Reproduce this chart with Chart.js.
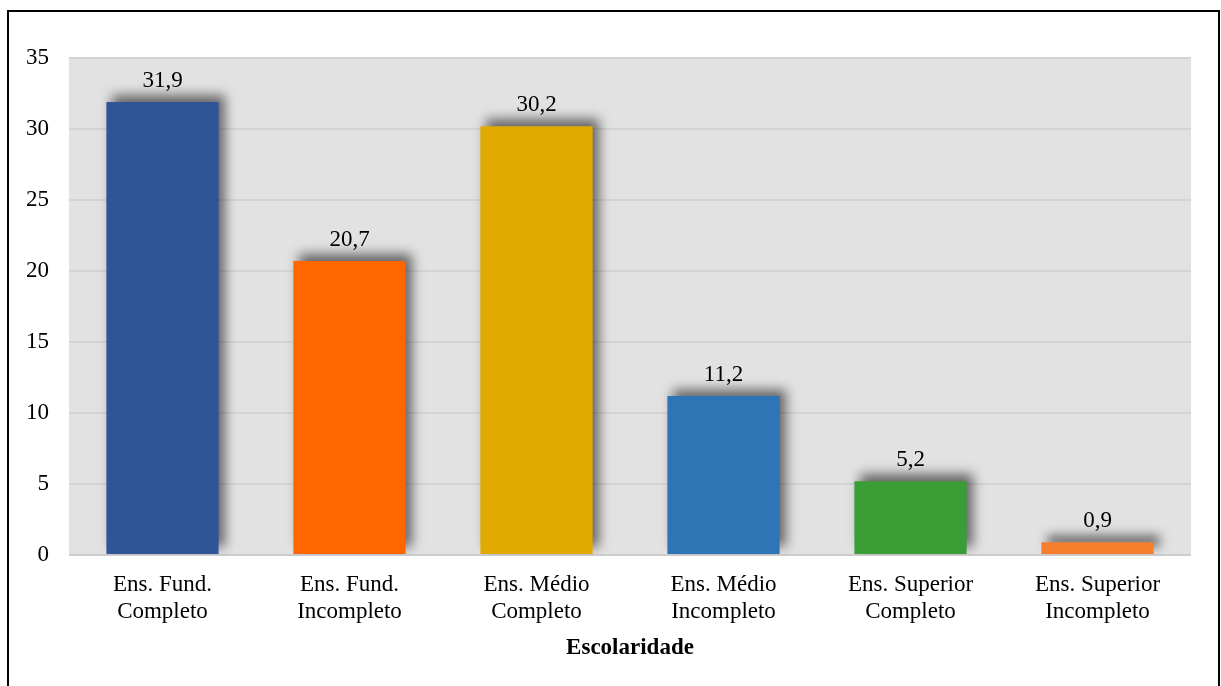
<!DOCTYPE html>
<html lang="pt-BR">
<head>
<meta charset="utf-8">
<title>Escolaridade</title>
<script src="https://cdn.jsdelivr.net/npm/chart.js@4/dist/chart.umd.min.js"></script>
<style>
  html, body { margin: 0; padding: 0; background: #ffffff; }
  #wrap { position: absolute; left: 0; top: 0; width: 1221px; height: 686px; }
</style>
</head>
<body>
<div id="wrap"><canvas id="chart" width="1221" height="686"></canvas></div>
<script>
// Escolaridade (%)
const categories = [
  ['Ens. Fund.', 'Completo'],
  ['Ens. Fund.', 'Incompleto'],
  ['Ens. Médio', 'Completo'],
  ['Ens. Médio', 'Incompleto'],
  ['Ens. Superior', 'Completo'],
  ['Ens. Superior', 'Incompleto']
];
const values = [31.9, 20.7, 30.2, 11.2, 5.2, 0.9];
const barColors = ['#2F5597', '#FF6600', '#E2AA00', '#2E75B6', '#3A9D36', '#F47E2C'];
const yTicks = [0, 5, 10, 15, 20, 25, 30, 35];
const axisTitle = 'Escolaridade';

const FONT = '"Liberation Serif", "Times New Roman", Times, serif';

const fmt = v => v.toFixed(1).replace('.', ',');

// Frame, plot background, bar shadows and value labels
const decor = {
  id: 'decor',
  beforeDraw(chart) {
    const { ctx, chartArea: a } = chart;
    ctx.save();
    ctx.fillStyle = '#ffffff';
    ctx.fillRect(0, 0, chart.width, chart.height);
    ctx.fillStyle = '#e2e2e2';
    ctx.fillRect(a.left, a.top, a.right - a.left, a.bottom - a.top);
    ctx.lineWidth = 2;
    ctx.strokeStyle = '#000000';
    ctx.strokeRect(8, 11, 1211, 700);
    ctx.restore();
  },
  beforeDatasetsDraw(chart) {
    const ctx = chart.ctx;
    ctx.save();
    ctx.shadowColor = 'rgba(0,0,0,0.55)';
    ctx.shadowBlur = 11;
    ctx.shadowOffsetX = 6;
    ctx.shadowOffsetY = -7;
  },
  afterDatasetsDraw(chart) {
    const ctx = chart.ctx;
    ctx.restore();
    ctx.save();
    ctx.font = '23px ' + FONT;
    ctx.fillStyle = '#000000';
    ctx.textAlign = 'center';
    ctx.textBaseline = 'alphabetic';
    chart.getDatasetMeta(0).data.forEach((bar, i) => {
      ctx.fillText(fmt(values[i]), bar.x, bar.y - 15);
    });
    ctx.restore();
  }
};

new Chart(document.getElementById('chart'), {
  type: 'bar',
  data: {
    labels: categories,
    datasets: [{
      data: values,
      backgroundColor: barColors,
      borderWidth: 0,
      categoryPercentage: 1,
      barPercentage: 0.6
    }]
  },
  options: {
    responsive: false,
    animation: false,
    devicePixelRatio: 1,
    layout: { padding: { left: 0, right: 30, top: 58, bottom: 0 } },
    plugins: {
      legend: { display: false },
      tooltip: { enabled: false }
    },
    scales: {
      x: {
        offset: true,
        grid: { display: false, drawTicks: false },
        border: { display: false },
        ticks: {
          color: '#000000',
          padding: 16,
          maxRotation: 0,
          autoSkip: false,
          font: { family: FONT, size: 23, lineHeight: 1.2 }
        },
        title: {
          display: true,
          text: axisTitle,
          color: '#000000',
          padding: { top: 0, bottom: 24 },
          font: { family: FONT, size: 23, weight: 'bold', lineHeight: 1.2 }
        },
        afterFit(s) { s.height = 131; }
      },
      y: {
        min: 0,
        max: 35,
        afterBuildTicks(s) { s.ticks = yTicks.map(v => ({ value: v })); },
        grid: {
          drawTicks: false,
          lineWidth: 2,
          color: c => (c.tick && c.tick.value === 0) ? '#cdcdcd' : '#d4d4d4'
        },
        border: { display: false },
        ticks: {
          color: '#000000',
          padding: 20,
          font: { family: FONT, size: 23 }
        },
        afterFit(s) { s.width = 69; }
      }
    }
  },
  plugins: [decor]
});
</script>
</body>
</html>
